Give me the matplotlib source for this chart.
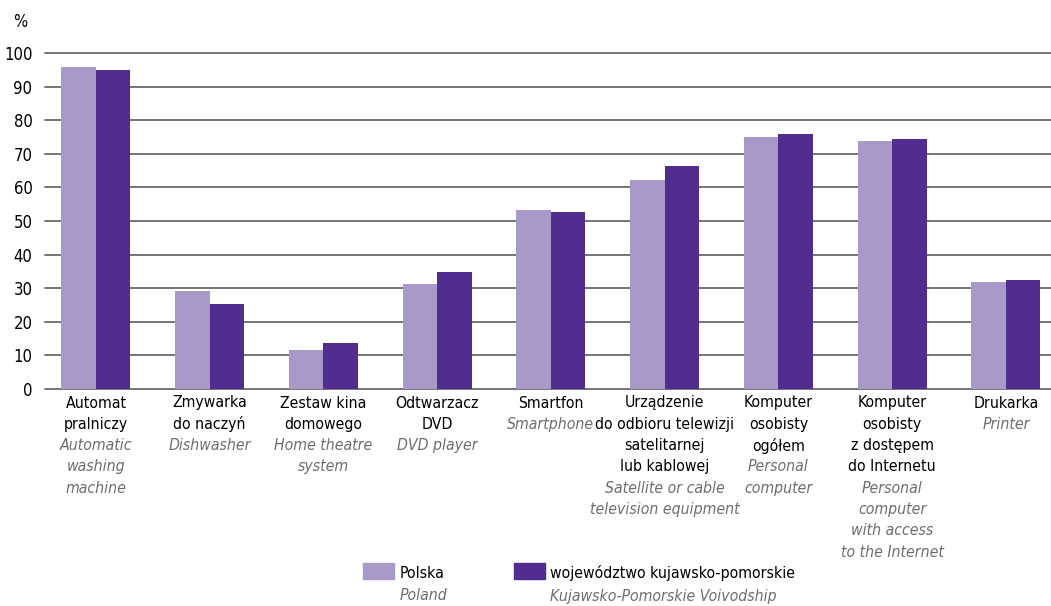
import numpy as np
import matplotlib
matplotlib.use('Agg')
import matplotlib.pyplot as plt
from matplotlib.patches import Rectangle

plt.rcParams['font.family'] = ['DejaVu Sans']
plt.rcParams['font.stretch'] = 'condensed'

# dane (%)
labels_pl = [
    ['Automat', 'pralniczy'],
    ['Zmywarka', 'do naczyń'],
    ['Zestaw kina', 'domowego'],
    ['Odtwarzacz', 'DVD'],
    ['Smartfon'],
    ['Urządzenie', 'do odbioru telewizji', 'satelitarnej', 'lub kablowej'],
    ['Komputer', 'osobisty', 'ogółem'],
    ['Komputer', 'osobisty', 'z dostępem', 'do Internetu'],
    ['Drukarka'],
]
labels_en = [
    ['Automatic', 'washing', 'machine'],
    ['Dishwasher'],
    ['Home theatre', 'system'],
    ['DVD player'],
    ['Smartphone'],
    ['Satellite or cable', 'television equipment'],
    ['Personal', 'computer'],
    ['Personal', 'computer', 'with access', 'to the Internet'],
    ['Printer'],
]
polska = [95.7, 29.2, 11.7, 31.3, 53.3, 62.2, 75.0, 73.8, 31.9]
kujawsko = [94.9, 25.3, 13.8, 34.9, 52.7, 66.4, 75.9, 74.4, 32.5]
yticks = [0, 10, 20, 30, 40, 50, 60, 70, 80, 90, 100]

C_PL = '#a899c8'
C_KP = '#512d8f'
GRAY_TXT = '#6e6e6e'
FS = 11.3

W, H = 1051, 606
fig = plt.figure(figsize=(W / 100, H / 100), dpi=100)
ax = fig.add_axes([45 / W, 1 - 389 / H, 1006 / W, 336 / H])

x = np.arange(len(polska))
bw = 0.303
ax.bar(x - bw / 2, polska, width=bw, color=C_PL, zorder=3)
ax.bar(x + bw / 2, kujawsko, width=bw, color=C_KP, zorder=3)

ax.set_xlim(-0.448, 8.396)
ax.set_ylim(0, 100)
ax.set_yticks(yticks)
ax.set_yticklabels([str(v) for v in yticks], fontsize=12)
ax.tick_params(axis='y', length=0, pad=9)
ax.set_xticks([])
for v in yticks:
    ax.axhline(v, color='#505050', lw=1.1, zorder=1, clip_on=False)
for s in ax.spines.values():
    s.set_visible(False)

fig.text(13 / W, 1 - 22 / H, '%', fontsize=12, va='center', ha='left')

# podpisy kategorii
step = 21.3
for i in range(len(x)):
    lines = [(t, 'black', 'normal') for t in labels_pl[i]] + \
            [(t, GRAY_TXT, 'italic') for t in labels_en[i]]
    for k, (t, col, st) in enumerate(lines):
        ax.annotate(t, xy=(x[i], 0), xycoords='data',
                    xytext=(0, -(14 + step * k) * 0.72), textcoords='offset points',
                    ha='center', va='center', fontsize=FS, color=col,
                    style=st, annotation_clip=False)

# legenda
fig.patches.append(Rectangle((363 / W, 1 - 579 / H), 31 / W, 16 / H,
                             color=C_PL, transform=fig.transFigure))
fig.patches.append(Rectangle((514 / W, 1 - 579 / H), 31 / W, 16 / H,
                             color=C_KP, transform=fig.transFigure))
fig.text(400 / W, 1 - 573 / H, 'Polska', fontsize=FS, va='center')
fig.text(400 / W, 1 - 596 / H, 'Poland', fontsize=FS, va='center',
         style='italic', color=GRAY_TXT)
fig.text(550 / W, 1 - 573 / H, 'województwo kujawsko-pomorskie', fontsize=FS,
         va='center')
fig.text(550 / W, 1 - 596 / H, 'Kujawsko-Pomorskie Voivodship', fontsize=FS,
         va='center', style='italic', color=GRAY_TXT)

fig.savefig('out.png', dpi=100)
